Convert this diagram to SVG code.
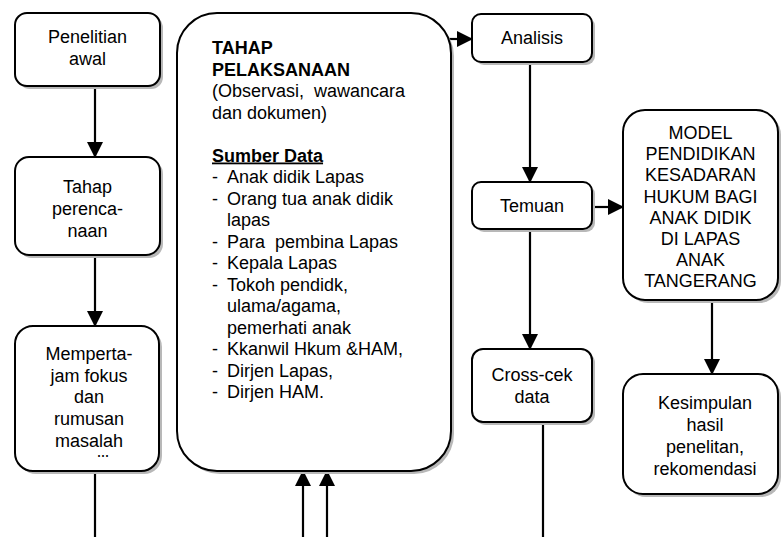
<svg xmlns="http://www.w3.org/2000/svg" width="783" height="537" viewBox="0 0 783 537">
<style>
.box{fill:#fff;stroke:#000;stroke-width:2}
.sh{fill:#b8b8b8}
.t{font-family:"Liberation Sans",Arial,sans-serif;font-size:18px;fill:#000}
.c{text-anchor:middle}
.b{font-weight:bold}
.ln{stroke:#000;stroke-width:2.2;fill:none}
</style>
<defs>
<marker id="ah" markerUnits="userSpaceOnUse" markerWidth="16" markerHeight="16" viewBox="0 0 16 16" refX="15" refY="8" orient="auto">
<path d="M0,0 L16,8 L0,16 Z" fill="#000"/>
</marker>
<clipPath id="clip3"><rect x="15" y="326" width="144" height="131"/></clipPath>
</defs>
<rect width="783" height="537" fill="#fff"/>
<g id="connectors">
<line class="ln" x1="95" y1="86" x2="95" y2="157" marker-end="url(#ah)"/>
<line class="ln" x1="95" y1="255" x2="95" y2="326" marker-end="url(#ah)"/>
<line class="ln" x1="95" y1="471" x2="95" y2="537"/>
<line class="ln" x1="303" y1="537" x2="303" y2="471" marker-end="url(#ah)"/>
<line class="ln" x1="327" y1="537" x2="327" y2="471" marker-end="url(#ah)"/>
<line class="ln" x1="448" y1="39" x2="472" y2="39" marker-end="url(#ah)"/>
<line class="ln" x1="530" y1="62" x2="530" y2="182" marker-end="url(#ah)"/>
<line class="ln" x1="592" y1="207" x2="623" y2="207" marker-end="url(#ah)"/>
<line class="ln" x1="530" y1="229" x2="530" y2="349" marker-end="url(#ah)"/>
<line class="ln" x1="543" y1="422" x2="543" y2="537"/>
<line class="ln" x1="712" y1="300" x2="712" y2="374" marker-end="url(#ah)"/>
</g>
<g id="n1">
<rect class="sh" x="18" y="16" width="145" height="73" rx="12"/>
<rect class="box" x="15" y="13" width="145" height="73" rx="12"/>
<text class="t c" x="87.5" y="43">Penelitian</text>
<text class="t c" x="87.5" y="65">awal</text>
</g>
<g id="n2">
<rect class="sh" x="18" y="160" width="145" height="98" rx="14"/>
<rect class="box" x="15" y="157" width="145" height="98" rx="14"/>
<text class="t c" x="87.5" y="193">Tahap</text>
<text class="t c" x="87.5" y="215">perenca-</text>
<text class="t c" x="87.5" y="237">naan</text>
</g>
<g id="n3">
<rect class="sh" x="18" y="329" width="144" height="145" rx="18"/>
<rect class="box" x="15" y="326" width="144" height="145" rx="18"/>
<text class="t c" x="89" y="360">Memperta-</text>
<text class="t c" x="89" y="381.7">jam fokus</text>
<text class="t c" x="89" y="403.3">dan</text>
<text class="t c" x="89" y="425">rumusan</text>
<text class="t c" x="89" y="446.7">masalah</text>
<text class="t c" x="100" y="468.4" clip-path="url(#clip3)">dll</text>
</g>
<g id="n4">
<rect class="sh" x="180" y="16" width="274" height="458" rx="40"/>
<rect class="box" x="177" y="13" width="274" height="458" rx="40"/>
<text class="t b" x="212" y="54">TAHAP</text>
<text class="t b" x="212" y="75.5">PELAKSANAAN</text>
<text class="t" x="212" y="97" xml:space="preserve">(Observasi,  wawancara</text>
<text class="t" x="212" y="118.5">dan dokumen)</text>
<text class="t b" x="212" y="161.5" text-decoration="underline">Sumber Data</text>
<text class="t" x="212" y="183">-</text><text class="t" x="227" y="183">Anak didik Lapas</text>
<text class="t" x="212" y="204.5">-</text><text class="t" x="227" y="204.5">Orang tua anak didik</text>
<text class="t" x="227" y="226">lapas</text>
<text class="t" x="212" y="247.5">-</text><text class="t" x="227" y="247.5" xml:space="preserve">Para  pembina Lapas</text>
<text class="t" x="212" y="269">-</text><text class="t" x="227" y="269">Kepala Lapas</text>
<text class="t" x="212" y="290.5">-</text><text class="t" x="227" y="290.5">Tokoh pendidk,</text>
<text class="t" x="227" y="312">ulama/agama,</text>
<text class="t" x="227" y="333.5">pemerhati anak</text>
<text class="t" x="212" y="355">-</text><text class="t" x="227" y="355">Kkanwil Hkum &amp;HAM,</text>
<text class="t" x="212" y="376.5">-</text><text class="t" x="227" y="376.5">Dirjen Lapas,</text>
<text class="t" x="212" y="398">-</text><text class="t" x="227" y="398">Dirjen HAM.</text>
</g>
<g id="n5">
<rect class="sh" x="475" y="17" width="120" height="48" rx="9"/>
<rect class="box" x="472" y="14" width="120" height="48" rx="9"/>
<text class="t c" x="532" y="44">Analisis</text>
</g>
<g id="n6">
<rect class="sh" x="475" y="185" width="120" height="47" rx="9"/>
<rect class="box" x="472" y="182" width="120" height="47" rx="9"/>
<text class="t c" x="532" y="212">Temuan</text>
</g>
<g id="n7">
<rect class="sh" x="475" y="352" width="120" height="73" rx="11"/>
<rect class="box" x="472" y="349" width="120" height="73" rx="11"/>
<text class="t c" x="532" y="381">Cross-cek</text>
<text class="t c" x="532" y="403">data</text>
</g>
<g id="n8">
<rect class="sh" x="626" y="113" width="155" height="190" rx="22"/>
<rect class="box" x="623" y="110" width="155" height="190" rx="22"/>
<text class="t c" x="700.5" y="139">MODEL</text>
<text class="t c" x="700.5" y="160.2">PENDIDIKAN</text>
<text class="t c" x="700.5" y="181.4">KESADARAN</text>
<text class="t c" x="700.5" y="202.6">HUKUM BAGI</text>
<text class="t c" x="700.5" y="223.8">ANAK DIDIK</text>
<text class="t c" x="700.5" y="245">DI LAPAS</text>
<text class="t c" x="700.5" y="266.2">ANAK</text>
<text class="t c" x="700.5" y="287.4">TANGERANG</text>
</g>
<g id="n9">
<rect class="sh" x="626" y="377" width="155" height="120" rx="20"/>
<rect class="box" x="623" y="374" width="155" height="120" rx="20"/>
<text class="t c" x="705" y="409">Kesimpulan</text>
<text class="t c" x="705" y="431">hasil</text>
<text class="t c" x="705" y="453">penelitan,</text>
<text class="t c" x="705" y="475">rekomendasi</text>
</g>
</svg>
